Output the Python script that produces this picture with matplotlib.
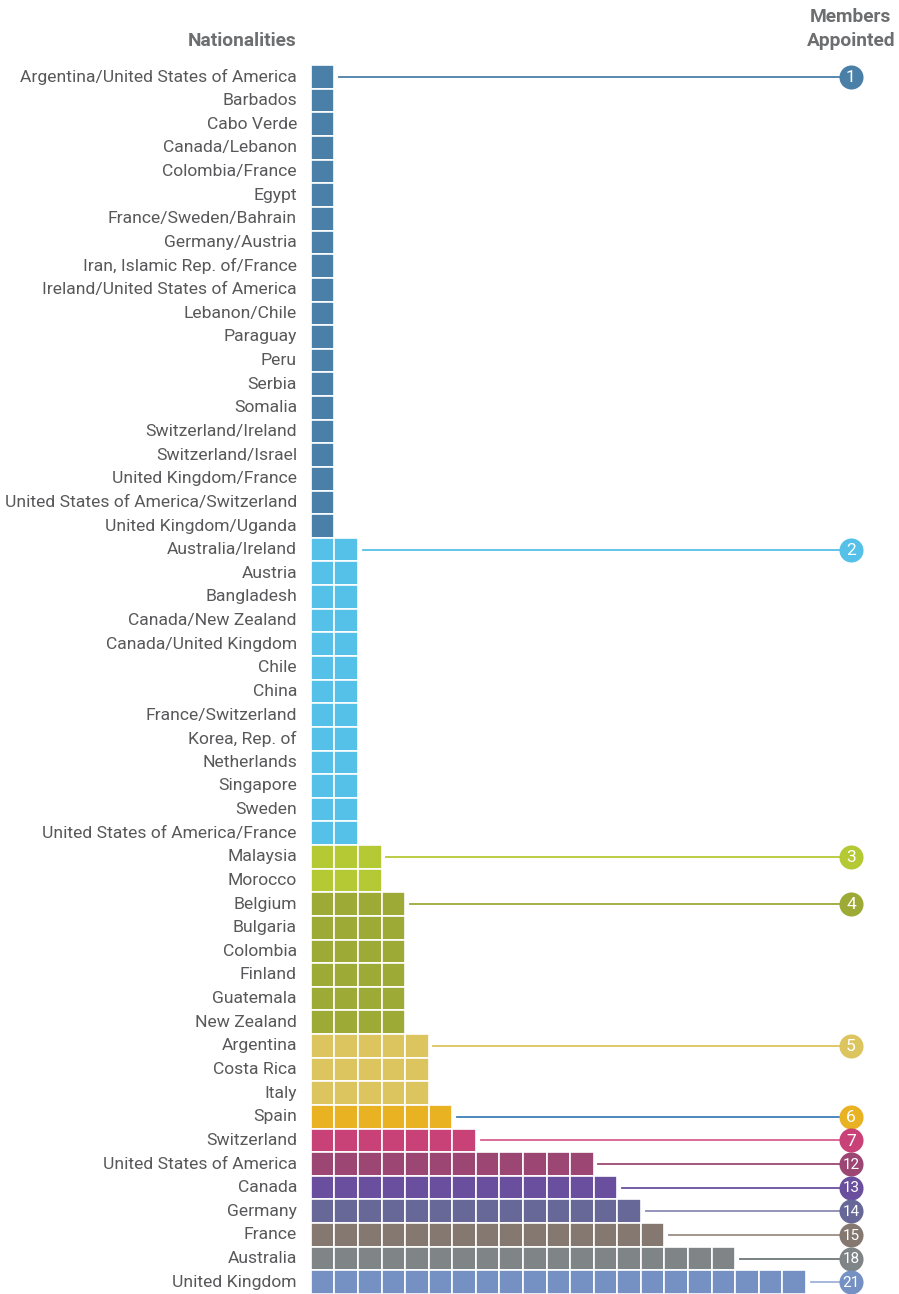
import matplotlib
matplotlib.use("Agg")
import matplotlib.pyplot as plt

plt.rcParams['font.family'] = ['Roboto', 'DejaVu Sans']

# dados
grupo_1 = ['Argentina/United States of America', 'Barbados', 'Cabo Verde', 'Canada/Lebanon',
           'Colombia/France', 'Egypt', 'France/Sweden/Bahrain', 'Germany/Austria',
           'Iran, Islamic Rep. of/France', 'Ireland/United States of America', 'Lebanon/Chile',
           'Paraguay', 'Peru', 'Serbia', 'Somalia', 'Switzerland/Ireland', 'Switzerland/Israel',
           'United Kingdom/France', 'United States of America/Switzerland', 'United Kingdom/Uganda']
grupo_2 = ['Australia/Ireland', 'Austria', 'Bangladesh', 'Canada/New Zealand',
           'Canada/United Kingdom', 'Chile', 'China', 'France/Switzerland', 'Korea, Rep. of',
           'Netherlands', 'Singapore', 'Sweden', 'United States of America/France']
grupo_3 = ['Malaysia', 'Morocco']
grupo_4 = ['Belgium', 'Bulgaria', 'Colombia', 'Finland', 'Guatemala', 'New Zealand']
grupo_5 = ['Argentina', 'Costa Rica', 'Italy']
grupo_6 = ['Spain']
grupo_7 = ['Switzerland']
grupo_12 = ['United States of America']
grupo_13 = ['Canada']
grupo_14 = ['Germany']
grupo_15 = ['France']
grupo_18 = ['Australia']
grupo_21 = ['United Kingdom']

grupos = [grupo_1, grupo_2, grupo_3, grupo_4, grupo_5, grupo_6, grupo_7,
          grupo_12, grupo_13, grupo_14, grupo_15, grupo_18, grupo_21]
membros = [1, 2, 3, 4, 5, 6, 7, 12, 13, 14, 15, 18, 21]
cores = ['#4a7fa7', '#55c0e8', '#b5c935', '#9daa36', '#dcc45e', '#e8b223', '#c94277',
         '#9c4673', '#6a4f9f', '#676898', '#857870', '#7f8587', '#7591c4']
cores_linha = ['#4a7fa7', '#55c0e8', '#b5c935', '#9daa36', '#dcc45e', '#3f7fb5', '#d9608f',
               '#9c4673', '#6a4f9f', '#8a8bb3', '#9b8d84', '#6f7779', '#9fb3d8']

cor_texto = '#58585a'
cor_titulo = '#6d6e70'
x_circulo = 22.91

fig = plt.figure(figsize=(8.99, 12.94), dpi=100)
ax = fig.add_axes([0, 0, 1, 1])
ax.set_xlim(-13.19, 24.95)
ax.set_ylim(51.5, -3.26)
ax.axis('off')

linha = 0
for nomes, n, cor, cor_l in zip(grupos, membros, cores, cores_linha):
    # linha e círculo para o primeiro país do grupo
    ax.plot([n + 0.2, x_circulo], [linha, linha], color=cor_l, linewidth=1.3, zorder=1)
    ax.scatter([x_circulo], [linha], s=300, color=cor, zorder=3, linewidths=0)
    ax.text(x_circulo, linha + 0.03, str(n), color='white',
            fontsize=12.5 if n < 10 else 11,
            ha='center', va='center', zorder=4)
    for nome in nomes:
        ax.barh(linha, [1] * n, left=list(range(n)), height=1, color=cor,
                edgecolor='white', linewidth=1.2, zorder=2)
        ax.text(-0.59, linha, nome, color=cor_texto, fontsize=12.6,
                ha='right', va='center')
        linha += 1

# cabeçalhos
ax.text(-0.59, -1.52, 'Nationalities', color=cor_titulo, fontsize=13.8,
        fontweight='bold', ha='right', va='center')
ax.text(x_circulo, -2.54, 'Members', color=cor_titulo, fontsize=13.8,
        fontweight='bold', ha='center', va='center')
ax.text(x_circulo, -1.52, 'Appointed', color=cor_titulo, fontsize=13.8,
        fontweight='bold', ha='center', va='center')

fig.savefig('out.png', dpi=100)
